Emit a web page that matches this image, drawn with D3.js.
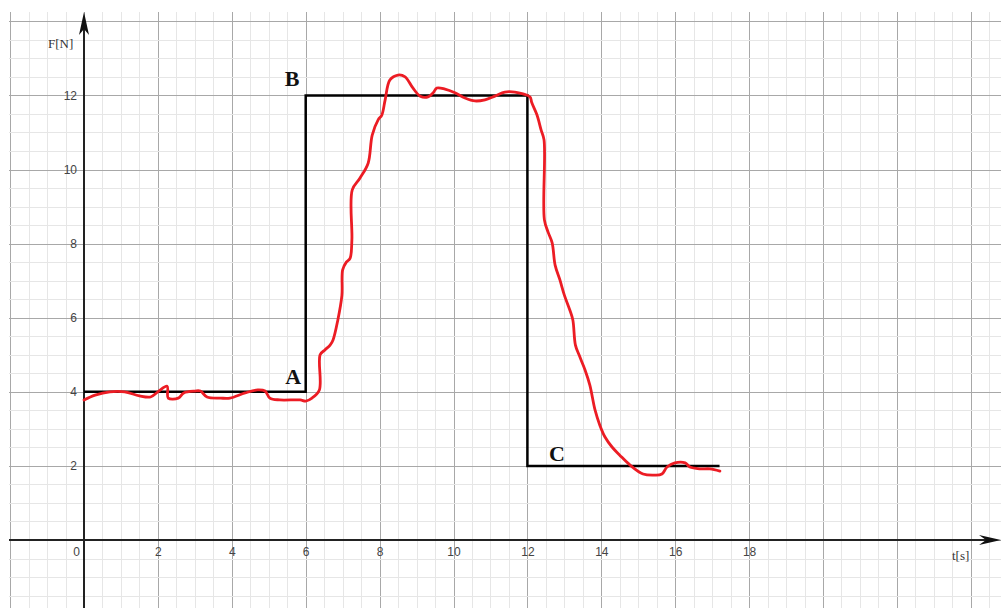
<!DOCTYPE html>
<html>
<head>
<meta charset="utf-8">
<script src="https://cdn.jsdelivr.net/npm/d3@7"></script>
<style>
  html, body { margin: 0; padding: 0; background: #fff; }
  svg { display: block; }
</style>
</head>
<body>
<div id="chart"></div>
<script>
const width = 1001;
const height = 608;

// ticks shown on the axes
const tTicks = [0, 2, 4, 6, 8, 10, 12, 14, 16, 18];
const fTicks = [2, 4, 6, 8, 10, 12];

// idealised force profile A-B-C (t, F)
const idealT = [0, 6, 6, 12, 12, 17.2];
const idealF = [4, 4, 12, 12, 2, 2];

// measured force (red curve)
const measT = [0, 0.3, 0.7, 1.1, 1.5, 1.8, 2.0, 2.25, 2.28, 2.55, 2.7, 3.0, 3.15, 3.33, 3.7, 3.95, 4.36, 4.7, 4.9, 5.03, 5.3, 5.85, 6.0, 6.17,
  6.37, 6.39, 6.52, 6.66, 6.74, 6.87, 6.98, 7.0, 7.1, 7.2, 7.25, 7.26, 7.47, 7.69, 7.8, 7.96, 8.06, 8.15, 8.28, 8.5, 8.69, 8.9, 9.1, 9.31,
  9.45, 9.55, 9.77, 10.04, 10.31, 10.58, 10.85, 11.12, 11.39, 11.66, 11.88, 12.07, 12.12, 12.26, 12.37, 12.45, 12.46, 12.56, 12.67, 12.75,
  12.88, 13.0, 13.15, 13.23, 13.3, 13.4, 13.56, 13.69, 13.83, 13.96, 14.1, 14.29, 14.5, 14.78, 15.13, 15.45, 15.64, 15.78, 15.99, 16.27,
  16.4, 16.67, 16.94, 17.21];
const measF = [3.78, 3.91, 4.0, 4.0, 3.89, 3.86, 4.0, 4.15, 3.83, 3.83, 3.97, 4.02, 4.02, 3.86, 3.83, 3.83, 3.97, 4.05, 4.02, 3.83, 3.78, 3.78, 3.75, 3.83,
  4.05, 5.0, 5.13, 5.26, 5.4, 5.94, 6.6, 7.29, 7.5, 7.6, 8.1, 9.45, 9.77, 10.17, 10.93, 11.34, 11.47, 11.88, 12.42, 12.55, 12.5, 12.2, 11.98, 11.96,
  12.07, 12.2, 12.17, 12.07, 11.93, 11.85, 11.88, 11.98, 12.09, 12.09, 12.04, 11.96, 11.8, 11.47, 11.07, 10.8, 8.64, 8.31, 8.02, 7.42,
  7.02, 6.61, 6.2, 5.94, 5.26, 4.99, 4.59, 4.18, 3.51, 3.1, 2.78, 2.51, 2.29, 2.02, 1.78, 1.75, 1.78, 1.97, 2.08, 2.08,
  1.97, 1.92, 1.92, 1.86];

const pointLabels = [
  { name: "A", t: 5.66, f: 4.2 },
  { name: "B", t: 5.63, f: 12.26 },
  { name: "C", t: 12.8, f: 2.12 }
];

const x = d3.scaleLinear().domain([0, 24]).range([84, 84 + 24 * 36.95]);
const y = d3.scaleLinear().domain([0, 14]).range([540, 540 - 14 * 37.05]);

const svg = d3.select("#chart")
  .append("svg")
  .attr("width", width)
  .attr("height", height);

// Grid
const gridTop = 12;
const gridLeft = 9;
const grid = svg.append("g");

const vLines = d3.range(-2, 24.51, 0.5);
const hLines = d3.range(-2, 14.01, 0.5);

grid.selectAll("line.v")
  .data(vLines)
  .enter()
  .append("line")
  .attr("x1", d => Math.round(x(d)) + 0.5)
  .attr("x2", d => Math.round(x(d)) + 0.5)
  .attr("y1", gridTop)
  .attr("y2", height)
  .attr("stroke", d => d % 2 === 0 ? "#a8a8a8" : "#e6e6e6")
  .attr("stroke-width", 1);

grid.selectAll("line.h")
  .data(hLines)
  .enter()
  .append("line")
  .attr("x1", gridLeft)
  .attr("x2", width)
  .attr("y1", d => Math.round(y(d)) + 0.5)
  .attr("y2", d => Math.round(y(d)) + 0.5)
  .attr("stroke", d => d % 2 === 0 ? "#a8a8a8" : "#e6e6e6")
  .attr("stroke-width", 1);

// Axes lines
svg.append("line")
  .attr("x1", gridLeft).attr("x2", width - 8)
  .attr("y1", y(0)).attr("y2", y(0))
  .attr("stroke", "#222").attr("stroke-width", 2);

svg.append("line")
  .attr("x1", x(0)).attr("x2", x(0))
  .attr("y1", 20).attr("y2", height)
  .attr("stroke", "#222").attr("stroke-width", 2);

// arrow heads
svg.append("path")
  .attr("d", `M${x(0)},${gridTop} L${x(0) - 5},${gridTop + 23} L${x(0)},${gridTop + 17} L${x(0) + 5},${gridTop + 23} Z`)
  .attr("fill", "#111");

svg.append("path")
  .attr("d", `M${width},${y(0)} L${width - 22},${y(0) - 5} L${width - 15},${y(0)} L${width - 22},${y(0) + 5} Z`)
  .attr("fill", "#111");

// Tick labels
const xAxis = svg.append("g")
  .attr("transform", `translate(0,${y(0)})`)
  .call(d3.axisBottom(x).tickValues(tTicks).tickSize(0).tickPadding(7).tickFormat(d3.format("d")));
xAxis.select(".domain").remove();
xAxis.selectAll("text")
  .attr("font-family", "Liberation Sans, Arial, sans-serif")
  .attr("font-size", 12)
  .attr("fill", "#444")
  .attr("dx", d => d === 0 ? -8 : 0);

const yAxis = svg.append("g")
  .attr("transform", `translate(${x(0)},0)`)
  .call(d3.axisLeft(y).tickValues(fTicks).tickSize(0).tickPadding(7).tickFormat(d3.format("d")));
yAxis.select(".domain").remove();
yAxis.selectAll("text")
  .attr("font-family", "Liberation Sans, Arial, sans-serif")
  .attr("font-size", 12)
  .attr("fill", "#444");

// axis titles
svg.append("text")
  .attr("x", 48).attr("y", 48)
  .attr("font-family", "Liberation Serif, Times New Roman, serif")
  .attr("font-size", 13)
  .attr("fill", "#333")
  .text("F[N]");

svg.append("text")
  .attr("x", 952).attr("y", 560)
  .attr("font-family", "Liberation Serif, Times New Roman, serif")
  .attr("font-size", 13)
  .attr("fill", "#333")
  .text("t[s]");

// ideal profile
const line = d3.line()
  .x(d => x(d[0]))
  .y(d => y(d[1]));

svg.append("path")
  .datum(d3.zip(idealT, idealF))
  .attr("d", line)
  .attr("fill", "none")
  .attr("stroke", "#000")
  .attr("stroke-width", 2.5);

// measured curve
const smooth = d3.line()
  .x(d => x(d[0]))
  .y(d => y(d[1]))
  .curve(d3.curveCatmullRom.alpha(0.5));

svg.append("path")
  .datum(d3.zip(measT, measF))
  .attr("d", smooth)
  .attr("fill", "none")
  .attr("stroke", "#ec1c24")
  .attr("stroke-width", 2.8)
  .attr("stroke-linejoin", "round")
  .attr("stroke-linecap", "round");

// point labels
svg.selectAll("text.pt")
  .data(pointLabels)
  .enter()
  .append("text")
  .attr("class", "pt")
  .attr("x", d => x(d.t))
  .attr("y", d => y(d.f))
  .attr("text-anchor", "middle")
  .attr("font-family", "Liberation Serif, Times New Roman, serif")
  .attr("font-weight", "bold")
  .attr("font-size", 22)
  .attr("fill", "#111")
  .text(d => d.name);
</script>
</body>
</html>
